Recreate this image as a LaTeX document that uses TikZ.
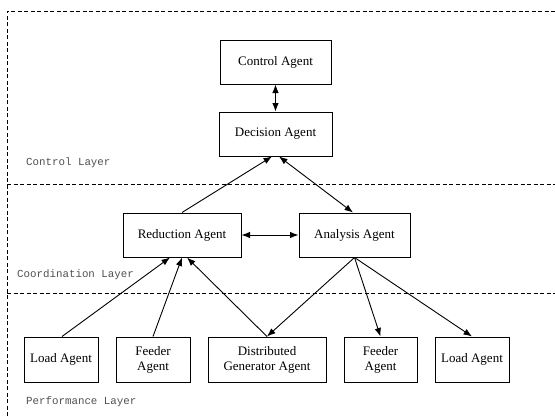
\documentclass[tikz,border=0pt]{standalone}
\usepackage{fontspec}
\setmainfont{Liberation Serif}
\newfontfamily\layerfont{Liberation Mono}
\usetikzlibrary{arrows.meta}
\definecolor{layergray}{RGB}{80,80,80}
\tikzset{
  agent/.style = {draw, line width=1pt, inner sep=0pt, align=center,
                  minimum width=#1, minimum height=44pt,
                  font=\fontsize{13}{15}\selectfont},
  agent/.default = 111pt,
  layer/.style = {anchor=west, text=layergray, inner sep=0pt,
                  font=\layerfont\fontsize{10.8}{12}\selectfont},
  border/.style = {line width=0.8pt, dash pattern=on 4pt off 2.5pt},
  link/.style = {line width=0.9pt, -{Latex[length=8.5pt,width=6.5pt]}},
  link2/.style = {line width=0.9pt, {Latex[length=8.5pt,width=6.5pt]}-{Latex[length=8.5pt,width=6.5pt]}}
}

\begin{document}
\begin{tikzpicture}[x=1pt,y=-1pt]
	\useasboundingbox (0,0) rectangle (555,416);
	\def \yb{359.5} % bottom row
	
	% Layer borders
	\draw[border] (7,416) -- (7,11) -- (555,11);
	\draw[border] (7,184) -- (555,184);
	\draw[border] (7,293) -- (555,293);
	
	% Layer names
	\node[layer] (lctrl) at (26,163) {Control Layer};
	\node[layer] (lcoord) at (17,275) {Coordination Layer};
	\node[layer] (lperf) at (26,402) {Performance Layer};
	
	% Control layer
	\node[agent=111pt] (ctrl) at (275.5,62) {Control Agent};
	\node[agent=113pt] (dec) at (275.5,134) {Decision Agent};
	
	% Coordination layer
	\node[agent=118pt] (red) at (182,235) {Reduction Agent};
	\node[agent=111pt] (ana) at (354.5,235) {Analysis Agent};
	
	% Performance layer
	\node[agent=74pt, minimum height=45pt] (load1) at (61,\yb) {Load Agent};
	\node[agent=74pt, minimum height=45pt] (feed1) at (153,\yb) {Feeder\\Agent};
	\node[agent=118pt, minimum height=45pt] (dg) at (267,\yb) {Distributed\\Generator Agent};
	\node[agent=73pt, minimum height=45pt] (feed2) at (380.5,\yb) {Feeder\\Agent};
	\node[agent=74pt, minimum height=45pt] (load2) at (472,\yb) {Load Agent};
	
	% Links
	\draw[link2] (ctrl) -- (dec);
	\draw[link2] (red) -- (ana);
	\draw[link] (red.north) -- ([xshift=-3.5pt]dec.south);
	\draw[link2] ([xshift=3.5pt]dec.south) -- ([xshift=-1.5pt]ana.north);
	
	\draw[link] ([xshift=1pt]load1.north) -- ([xshift=-12pt]red.south);
	\draw[link] (feed1.north) -- (red.south);
	\draw[link] (dg.north) -- ([xshift=5pt]red.south);
	
	\draw[link] (ana.south) -- (dg.north);
	\draw[link] (ana.south) -- (feed2.north);
	\draw[link] (ana.south) -- (load2.north);
	
\end{tikzpicture}
\end{document}
